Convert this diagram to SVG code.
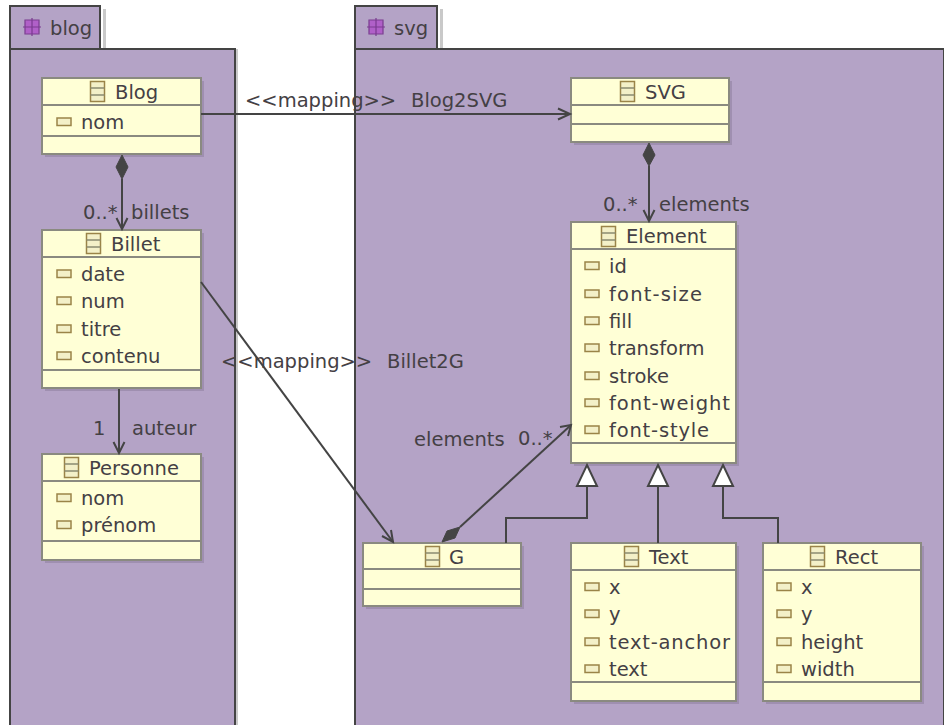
<svg xmlns="http://www.w3.org/2000/svg" width="944" height="725" viewBox="0 0 944 725">
<style>
text{font-family:"DejaVu Sans",sans-serif;font-size:19.500px;fill:#444044}
.pk{fill:#b4a3c6;stroke:#444;stroke-width:2}
.sh{fill:#c9c9c9}
.box{fill:#ffffd6;stroke:#8a8a80;stroke-width:2}
.bs{fill:#9f8fb0}
.sep{stroke:#8a8a80;stroke-width:2}
.ln{fill:none;stroke:#444;stroke-width:2}
.arr{fill:none;stroke:#444;stroke-width:2}
.dia{fill:#444;stroke:#444;stroke-width:1}
.tri{fill:#fff;stroke:#444;stroke-width:2}
</style>
<defs>
<g id="ci"><rect x="0.500" y="0.500" width="14" height="20" fill="#f3f0c8" stroke="#9a8448" stroke-width="1.500"/><path d="M0.500 7H14.500M0.500 14H14.500" stroke="#8a8a70" stroke-width="1.500" fill="none"/></g>
<g id="ai"><rect x="0" y="0" width="14" height="7.500" fill="#f3f0c8" stroke="#9a8448" stroke-width="1.500"/></g>
<g id="pi"><rect x="2" y="2" width="14" height="14" rx="2" fill="#b060c8"/><path d="M9 0V18M0 9H18M2 2H16V16H2Z" stroke="#7a3a90" stroke-width="1.200" fill="none"/></g>
</defs>
<g id="pkg-blog">
<path class="sh" d="M103 9h3v40h132v676h-3V52H103z"/>
<path class="pk" d="M10 725V6H100V49H235V725"/>
<path d="M10 49H100" class="ln"/>
<use href="#pi" x="23" y="18"/>
<text x="50" y="35">blog</text>
</g>
<g id="pkg-svg">
<path class="sh" d="M440 9h3v40h501v3H440z"/>
<path class="pk" d="M355 725V6H437V49H944V725"/>
<path d="M355 49H437" class="ln"/>
<use href="#pi" x="367" y="18"/>
<text x="394" y="35">svg</text>
</g>
<g id="Blog">
<rect class="bs" x="45" y="81" width="159" height="76"/>
<rect class="box" x="42" y="78" width="159" height="76"/>
<path class="sep" d="M42 105H201M42 136H201"/>
<use href="#ci" x="90" y="81"/><text x="115" y="99">Blog</text>
<use href="#ai" x="57" y="118"/><text x="81" y="129">nom</text>
</g>
<g id="Billet">
<rect class="bs" x="45" y="233" width="159" height="158"/>
<rect class="box" x="42" y="230" width="159" height="158"/>
<path class="sep" d="M42 257H201M42 370H201"/>
<use href="#ci" x="86" y="233"/><text x="111" y="251">Billet</text>
<use href="#ai" x="57" y="270"/><text x="81" y="281">date</text>
<use href="#ai" x="57" y="297"/><text x="81" y="308">num</text>
<use href="#ai" x="57" y="325"/><text x="81" y="336">titre</text>
<use href="#ai" x="57" y="352"/><text x="81" y="363">contenu</text>
</g>
<g id="Personne">
<rect class="bs" x="45" y="457" width="159" height="106"/>
<rect class="box" x="42" y="454" width="159" height="106"/>
<path class="sep" d="M42 481H201M42 541H201"/>
<use href="#ci" x="64" y="457"/><text x="89" y="475">Personne</text>
<use href="#ai" x="57" y="494"/><text x="81" y="505">nom</text>
<use href="#ai" x="57" y="521"/><text x="81" y="532">prénom</text>
</g>
<g id="SVG">
<rect class="bs" x="574" y="81" width="158" height="64"/>
<rect class="box" x="571" y="78" width="158" height="64"/>
<path class="sep" d="M571 105H729M571 124H729"/>
<use href="#ci" x="620" y="81"/><text x="645" y="99">SVG</text>
</g>
<g id="Element">
<rect class="bs" x="574" y="225" width="165" height="241"/>
<rect class="box" x="571" y="222" width="165" height="241"/>
<path class="sep" d="M571 249H736M571 443H736"/>
<use href="#ci" x="601" y="226"/><text x="626" y="243">Element</text>
<use href="#ai" x="585" y="262"/><text x="609" y="273">id</text>
<use href="#ai" x="585" y="290"/><text x="609" y="301" textLength="93">font-size</text>
<use href="#ai" x="585" y="317"/><text x="609" y="328">fill</text>
<use href="#ai" x="585" y="344"/><text x="609" y="355">transform</text>
<use href="#ai" x="585" y="372"/><text x="609" y="383">stroke</text>
<use href="#ai" x="585" y="399"/><text x="609" y="410" textLength="121">font-weight</text>
<use href="#ai" x="585" y="426"/><text x="609" y="437" textLength="100">font-style</text>
</g>
<g id="G">
<rect class="bs" x="366" y="546" width="158" height="63"/>
<rect class="box" x="363" y="543" width="158" height="63"/>
<path class="sep" d="M363 569H521M363 589H521"/>
<use href="#ci" x="425" y="546"/><text x="449" y="564">G</text>
</g>
<g id="Text">
<rect class="bs" x="574" y="546" width="165" height="158"/>
<rect class="box" x="571" y="543" width="165" height="158"/>
<path class="sep" d="M571 570H736M571 682H736"/>
<use href="#ci" x="624" y="546"/><text x="649" y="564">Text</text>
<use href="#ai" x="585" y="583"/><text x="609" y="594">x</text>
<use href="#ai" x="585" y="610"/><text x="609" y="621">y</text>
<use href="#ai" x="585" y="638"/><text x="609" y="649" textLength="121">text-anchor</text>
<use href="#ai" x="585" y="665"/><text x="609" y="676">text</text>
</g>
<g id="Rect">
<rect class="bs" x="766" y="546" width="158" height="158"/>
<rect class="box" x="763" y="543" width="158" height="158"/>
<path class="sep" d="M763 570H921M763 682H921"/>
<use href="#ci" x="810" y="546"/><text x="835" y="564">Rect</text>
<use href="#ai" x="777" y="583"/><text x="801" y="594">x</text>
<use href="#ai" x="777" y="610"/><text x="801" y="621">y</text>
<use href="#ai" x="777" y="638"/><text x="801" y="649">height</text>
<use href="#ai" x="777" y="665"/><text x="801" y="676">width</text>
</g>
<g id="connectors">
<path class="ln" d="M122 179V229"/><path class="dia" d="M122 155L128 167L122 179L116 167Z"/><path class="arr" d="M116.500 218L122 229L127.500 218"/>
<path class="ln" d="M201 114H570"/><path class="arr" d="M558 108.500L570 114L558 119.500"/>
<path class="ln" d="M649 166V221"/><path class="dia" d="M649 143L655 155L649 166L643 155Z"/><path class="arr" d="M643.500 210L649 221L654.500 210"/>
<path class="ln" d="M201 282L393 542"/><path class="arr" d="M382 536L393 542L391 530"/>
<path class="ln" d="M119 389V453"/><path class="arr" d="M113.500 442L119 453L124.500 442"/>
<path class="ln" d="M460 527L571 425"/><path class="dia" d="M442 542L447 531L460 527L455 538Z"/><path class="arr" d="M560 427L571 425L568 436"/>
<path class="ln" d="M506 543V518H587V486"/><path class="tri" d="M587 465L597 486H577Z"/>
<path class="ln" d="M658 543V486"/><path class="tri" d="M658 465L668 486H648Z"/>
<path class="ln" d="M778 543V518H723V486"/><path class="tri" d="M723 465L733 486H713Z"/>
</g>
<g id="labels">
<text x="245" y="107">&lt;&lt;mapping&gt;&gt;</text>
<text x="411" y="107">Blog2SVG</text>
<text x="221" y="368">&lt;&lt;mapping&gt;&gt;</text>
<text x="387" y="368">Billet2G</text>
<text x="83" y="219">0..*</text>
<text x="131" y="219">billets</text>
<text x="603" y="211">0..*</text>
<text x="659" y="211">elements</text>
<text x="93" y="435">1</text>
<text x="132" y="435">auteur</text>
<text x="414" y="446">elements</text>
<text x="518" y="445">0..*</text>
</g>
</svg>
